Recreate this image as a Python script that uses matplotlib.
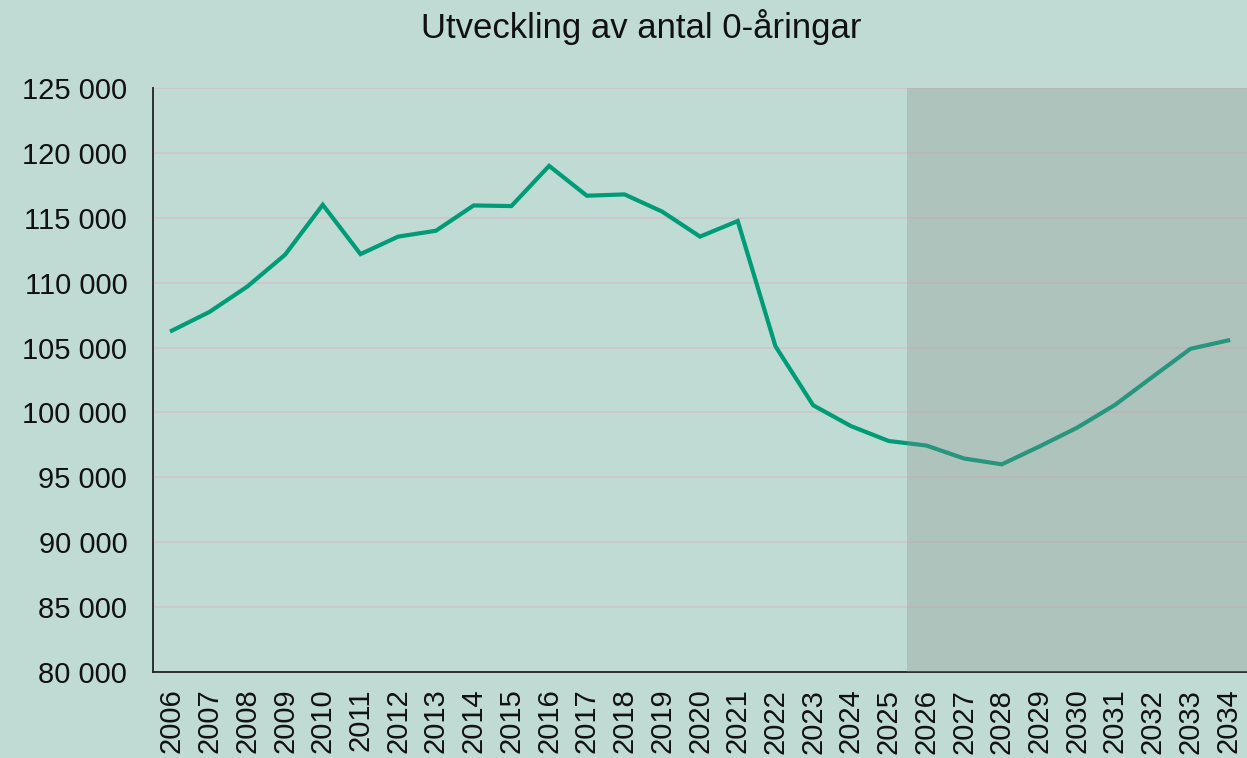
import matplotlib
matplotlib.use("Agg")
import matplotlib.pyplot as plt
from matplotlib.ticker import FuncFormatter, MultipleLocator

years = [str(y) for y in range(2006, 2035)]
births = [106300, 107750, 109700, 112150, 116000, 112200, 113550, 114000, 115950, 115900,
          119000, 116700, 116800, 115470, 113550, 114750, 105100, 100550, 98950, 97800,
          97450, 96450, 96000, 97380, 98830, 100580, 102750, 104900, 105550]
title = "Utveckling av antal 0-åringar"
forecast_start = "2026"

bg = "#BFDBD3"
line_color = "#009B77"

plt.rcParams['font.family'] = ['Liberation Sans', 'DejaVu Sans']

fig = plt.figure(figsize=(12.47, 7.58), dpi=100, facecolor=bg)
ax = fig.add_axes([0.1227, 0.1135, 0.8773, 0.7704])
ax.set_facecolor(bg)

x = list(range(len(years)))
ax.plot(x, births, color=line_color, lw=3.0, zorder=3, solid_joinstyle='miter')

fi = years.index(forecast_start)
ax.axvspan(fi - 0.5, len(years) - 0.5, color="#8A8A8A", alpha=0.29, lw=0, zorder=4)

ax.set_xlim(-0.5, len(years) - 0.5)
ax.set_ylim(80000, 125000)
ax.yaxis.set_major_locator(MultipleLocator(5000))
ax.yaxis.set_major_formatter(FuncFormatter(lambda v, p: f"{int(v):,}".replace(",", " ")))
ax.set_xticks(x)
ax.set_xticklabels(years, rotation=90)

ax.grid(axis='y', color="#CFC5C8", lw=1.2, zorder=1)
ax.set_axisbelow(True)
for s in ['top', 'right']:
    ax.spines[s].set_visible(False)
for s in ['left', 'bottom']:
    ax.spines[s].set_color("#222222")
    ax.spines[s].set_linewidth(1.3)
    ax.spines[s].set_zorder(2)

ax.tick_params(axis='both', length=0, labelsize=21, colors="#111111")
ax.tick_params(axis='y', pad=18.5)
ax.tick_params(axis='x', pad=12)

fig.text(0.514, 0.95, title, ha='center', va='baseline', fontsize=25, color="#111111")

fig.savefig("out.png", dpi=100, facecolor=bg)
